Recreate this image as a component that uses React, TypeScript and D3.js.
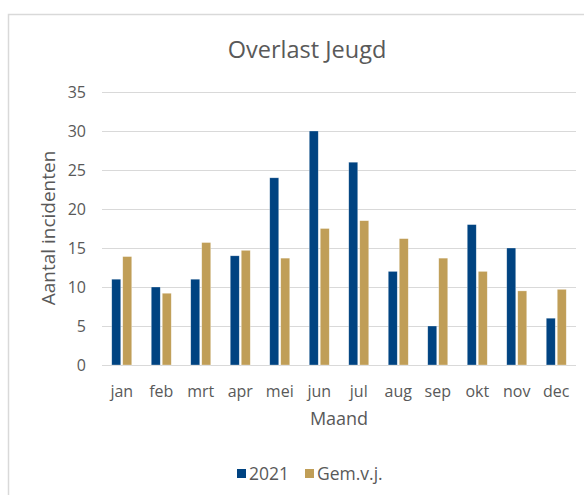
import React from "react";
import * as d3 from "d3";

const months = ["jan", "feb", "mrt", "apr", "mei", "jun", "jul", "aug", "sep", "okt", "nov", "dec"];
const values2021 = [11, 10, 11, 14, 24, 30, 26, 12, 5, 18, 15, 6];
const valuesGem = [13.9, 9.2, 15.7, 14.7, 13.7, 17.5, 18.5, 16.2, 13.7, 12, 9.5, 9.7];
const seriesNames = ["2021", "Gem.v.j."];
const seriesColors = ["#004381", "#C09E57"];
const yTicks = [0, 5, 10, 15, 20, 25, 30, 35];

const W = 584;
const H = 495;
const FONT = "'Open Sans', sans-serif";
const TXT = "#595959";

export default function App() {
  const left = 102, right = 576, top = 92, bottom = 365;
  const x = d3.scaleBand<string>().domain(months).range([left, right]).paddingInner(0).paddingOuter(0);
  const y = d3.scaleLinear().domain([0, 35]).range([bottom, top]);
  const inner = d3.scaleBand<string>().domain(seriesNames).range([-10, 10]).paddingInner(2 / 11).paddingOuter(0);
  const data = [values2021, valuesGem];

  return (
    <svg width={W} height={H} style={{ position: "absolute", left: 0, top: 0, background: "#fff" }} fontFamily={FONT}>
      <rect x={8.5} y={14.5} width={700} height={600} fill="#fff" stroke="#d9d9d9" strokeWidth={1.5} />
      <text x={307} y={58} textAnchor="middle" fontSize={23.5} fill={TXT}>Overlast Jeugd</text>
      {yTicks.map((t) => (
        <g key={t}>
          <line x1={left} x2={right} y1={Math.round(y(t)) + 0.5} y2={Math.round(y(t)) + 0.5} stroke="#d9d9d9" strokeWidth={1} />
          <text x={86} y={y(t)} dy="0.36em" textAnchor="end" fontSize={16} fill={TXT}>{t}</text>
        </g>
      ))}
      {data.map((vals, si) =>
        vals.map((v, i) => {
          const cx = (x(months[i]) as number) + x.bandwidth() / 2;
          const bx = cx + (inner(seriesNames[si]) as number);
          return (
            <rect key={si + "-" + i} x={bx} y={y(v)} width={inner.bandwidth()} height={y(0) - y(v)} fill={seriesColors[si]} stroke="#fff" strokeOpacity={0.5} strokeWidth={0.6} />
          );
        })
      )}
      {months.map((m) => (
        <text key={m} x={(x(m) as number) + x.bandwidth() / 2} y={391} dy="0.36em" textAnchor="middle" fontSize={16} fill={TXT}>{m}</text>
      ))}
      <text x={(left + right) / 2} y={419} dy="0.36em" textAnchor="middle" fontSize={18} fill={TXT}>Maand</text>
      <text transform={`translate(48,228) rotate(-90)`} dy="0.36em" textAnchor="middle" fontSize={19} fill={TXT}>Aantal incidenten</text>
      <g>
        <rect x={237} y={469} width={9} height={9} fill={seriesColors[0]} />
        <text x={249} y={474} dy="0.36em" fontSize={17.5} fill={TXT}>{seriesNames[0]}</text>
        <rect x={305} y={469} width={9} height={9} fill={seriesColors[1]} />
        <text x={317} y={474} dy="0.36em" fontSize={17.5} fill={TXT}>{seriesNames[1]}</text>
      </g>
    </svg>
  );
}
